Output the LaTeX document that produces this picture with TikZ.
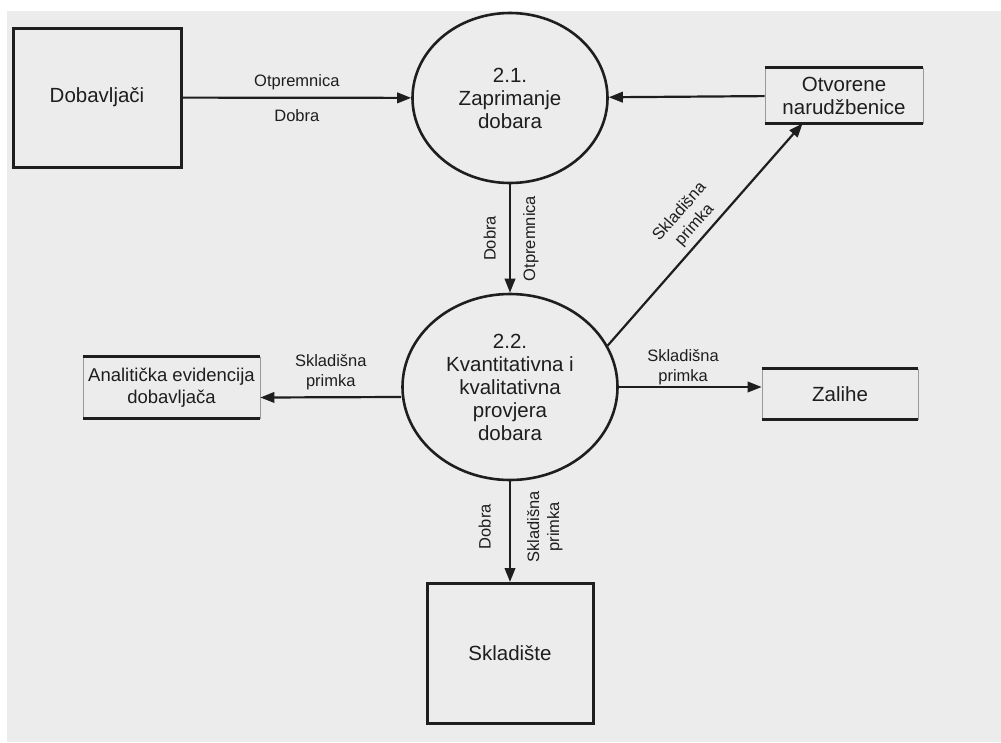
\documentclass[tikz,border=0pt]{standalone}
\usepackage{fontspec}
\setmainfont{Liberation Sans}
\usetikzlibrary{arrows.meta,shapes.geometric}
\definecolor{ink}{HTML}{1E1E1E}
\definecolor{paper}{HTML}{ECECEC}
\newcommand{\nodefont}{\fontsize{20.5}{23}\selectfont}
\newcommand{\lblfont}{\fontsize{16.5}{20}\selectfont}

\begin{document}
\begin{tikzpicture}[x=1pt,y=-1pt]
        \tikzstyle{entity}=[rectangle,draw=ink,line width=3pt,text=ink,font=\nodefont]
        \tikzstyle{process}=[ellipse,draw=ink,line width=2.6pt,text=ink,align=center,inner sep=0pt,font=\nodefont]
        \tikzstyle{store}=[rectangle,draw=black!40,line width=0.7pt,text=ink,align=center,font=\nodefont]
        \tikzstyle{flow}=[draw=ink,line width=2.2pt,-{Triangle[length=14pt,width=10.5pt]}]
        \tikzstyle{lbl}=[font=\lblfont,text=ink,align=center,inner sep=2pt]

        \useasboundingbox (0,0) rectangle (1001,742);
        \fill[white] (0,0) rectangle (1001,742);
        \fill[paper] (7,11) rectangle (1001,742);

         \node [entity,minimum width=168pt,minimum height=139pt] (dob) at (97,97.5) {Dobavljači};
         \node [process,minimum width=195pt,minimum height=170pt] (p1) at (510,98) {2.1.\\Zaprimanje\\dobara};
         \node [store,minimum width=158pt,minimum height=55pt] (otv) at (844,95.5) {Otvorene\\narudžbenice};
         \node [process,minimum width=215pt,minimum height=186pt] (p2) at (510,387) {2.2.\\Kvantitativna i\\kvalitativna\\provjera\\dobara};
         \node [store,minimum width=177pt,minimum height=61pt,font=\fontsize{18.5}{22}\selectfont] (ana) at (171.5,387.5) {Analitička evidencija\\dobavljača};
         \node [store,minimum width=156pt,minimum height=50pt] (zal) at (840,394) {Zalihe};
         \node [entity,minimum width=166pt,minimum height=140pt] (skl) at (510,653.5) {Skladište};

         % data stores: thick lines top and bottom
         \draw[ink,line width=3pt] (otv.north west) -- (otv.north east);
         \draw[ink,line width=3pt] (otv.south west) -- (otv.south east);
         \draw[ink,line width=3pt] (ana.north west) -- (ana.north east);
         \draw[ink,line width=3pt] (ana.south west) -- (ana.south east);
         \draw[ink,line width=3pt] (zal.north west) -- (zal.north east);
         \draw[ink,line width=3pt] (zal.south west) -- (zal.south east);

         \path (dob) edge[flow] node[lbl,above=5pt] {Otpremnica} node[lbl,below=9pt] {Dobra} (p1);
         \path (otv) edge[flow] (p1);
         \path (p1) edge[flow] node[lbl,rotate=90,above=11pt] {Dobra} node[lbl,rotate=90,below=10pt] {Otpremnica} (p2);
         \path (p2.23) edge[flow] node[lbl,sloped,above=3pt] {Skladišna\\primka} ([xshift=38pt]otv.south west);
         \path ([yshift=-10pt]p2.west) edge[flow] node[lbl,above=4pt] {Skladišna\\primka} ([yshift=-10pt]ana.east);
         \path (p2.east) edge[flow] node[lbl,pos=0.45,above=-1pt] {Skladišna\\primka} (p2.east -| zal.west);
         \path (p2) edge[flow] node[lbl,pos=0.45,rotate=90,above=16pt] {Dobra} node[lbl,pos=0.45,rotate=90,below=14pt] {Skladišna\\primka} (skl);
\end{tikzpicture}
\end{document}
